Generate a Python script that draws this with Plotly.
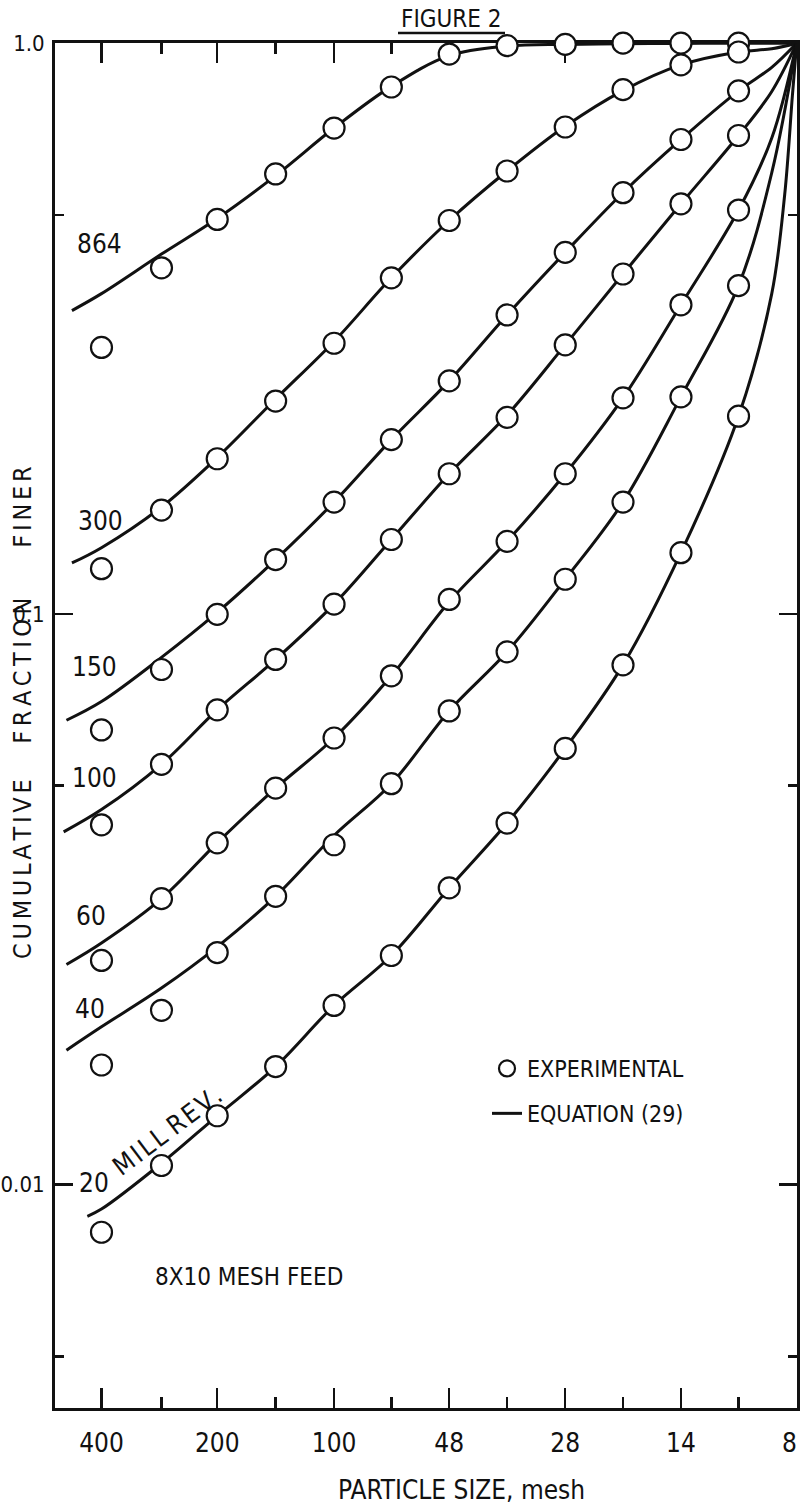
import math
import plotly.graph_objects as go

# ---------------- data ----------------
mesh_labels = ["400", "270", "200", "150", "100", "65", "48", "35", "28", "20", "14", "10", "8"]
sieve_um = [37, 53, 74, 105, 149, 210, 297, 420, 595, 841, 1190, 1680, 2380]

major_mesh = ["400", "200", "100", "48", "28", "14", "8"]
minor_mesh = ["270", "150", "65", "35", "20", "10"]

rev_labels = ["864", "300", "150", "100", "60", "40", "20"]

# experimental cumulative fraction finer at 400 ... 10 mesh
exp_864 = [0.293, 0.404, 0.491, 0.590, 0.710, 0.838, 0.957, 0.990, 0.995, 1.0, 1.0, 1.0]
exp_300 = [0.120, 0.152, 0.187, 0.236, 0.298, 0.388, 0.489, 0.597, 0.713, 0.829, 0.916, 0.965]
exp_150 = [0.0626, 0.0799, 0.0998, 0.1245, 0.157, 0.202, 0.256, 0.334, 0.430, 0.547, 0.678, 0.825]
exp_100 = [0.0427, 0.0545, 0.0679, 0.0832, 0.104, 0.135, 0.176, 0.221, 0.296, 0.394, 0.523, 0.689]
exp_60 = [0.0247, 0.0317, 0.0397, 0.0495, 0.0606, 0.0779, 0.106, 0.134, 0.176, 0.239, 0.348, 0.510]
exp_40 = [0.0162, 0.0202, 0.0255, 0.0320, 0.0394, 0.0504, 0.0676, 0.0858, 0.115, 0.157, 0.240, 0.376]
exp_20 = [0.00825, 0.0108, 0.0132, 0.0161, 0.0206, 0.0252, 0.0331, 0.0430, 0.0581, 0.0814, 0.128, 0.222]

# equation (29) curves: sizes (um) and values
eq_tail_um = [2050, 2380]
eq_start_um = [31, 31, 30, 29.5, 30, 30, 34]
eq_864 = [0.340, 0.364, 0.427, 0.493, 0.586, 0.710, 0.840, 0.951, 0.988, 0.995, 0.998, 0.999, 1.0, 1.0, 1.0]
eq_300 = [0.1228, 0.1306, 0.1539, 0.1879, 0.2380, 0.3002, 0.388, 0.489, 0.597, 0.715, 0.826, 0.916, 0.965, 0.978, 1.0]
eq_150 = [0.0651, 0.0702, 0.0839, 0.1006, 0.1245, 0.157, 0.202, 0.256, 0.334, 0.430, 0.547, 0.678, 0.825, 0.907, 1.0]
eq_100 = [0.0415, 0.0454, 0.0545, 0.0679, 0.0832, 0.104, 0.135, 0.176, 0.223, 0.296, 0.394, 0.523, 0.689, 0.823, 1.0]
eq_60 = [0.0243, 0.0265, 0.0317, 0.0397, 0.0495, 0.0606, 0.0779, 0.105, 0.134, 0.176, 0.239, 0.348, 0.510, 0.682, 1.0]
eq_40 = [0.0172, 0.0189, 0.0221, 0.0261, 0.0320, 0.0409, 0.0504, 0.0676, 0.0858, 0.115, 0.157, 0.240, 0.376, 0.593, 1.0]
eq_tail_20_um = [2050, 2215, 2320, 2380]
eq_20 = [0.0088, 0.00906, 0.0109, 0.0132, 0.0161, 0.0206, 0.0252, 0.0331, 0.0430, 0.0581, 0.0814, 0.128, 0.222, 0.364, 0.543, 0.811, 1.0]

exp_all = [exp_864, exp_300, exp_150, exp_100, exp_60, exp_40, exp_20]
eq_all = [eq_864, eq_300, eq_150, eq_100, eq_60, eq_40, eq_20]

# ---------------- figure ----------------
FONT = "Liberation Sans Narrow, DejaVu Sans Condensed, Roboto Condensed, Arial Narrow, Roboto, sans-serif"
BLACK = "#111111"

fig = go.Figure()

for i, lab in enumerate(rev_labels):
    tail = eq_tail_20_um if lab == "20" else eq_tail_um
    xs = [eq_start_um[i]] + sieve_um[:12] + tail
    fig.add_trace(go.Scatter(
        x=xs, y=eq_all[i], mode="lines",
        line=dict(color=BLACK, width=3, shape="spline", smoothing=1.0),
        name="EQUATION (29)", legendgroup="eq", showlegend=(i == 0), legendrank=2,
        hoverinfo="skip",
    ))

for i, lab in enumerate(rev_labels):
    fig.add_trace(go.Scatter(
        x=sieve_um[:12], y=exp_all[i], mode="markers",
        marker=dict(symbol="circle", size=21, color="white", line=dict(color=BLACK, width=2.2)),
        name="EXPERIMENTAL", legendgroup="exp", showlegend=(i == 0), legendrank=1,
        cliponaxis=False,
    ))

major_vals = [sieve_um[mesh_labels.index(m)] for m in major_mesh]
minor_vals = [sieve_um[mesh_labels.index(m)] for m in minor_mesh]
# the last label ("8") sits on the frame edge; it is written as a separate note below
major_text = [m if m != "8" else "" for m in major_mesh]

x_lo = math.log10(sieve_um[0]) - 0.1209
x_hi = math.log10(sieve_um[-1]) + 0.0008

fig.update_xaxes(
    type="log", range=[x_lo, x_hi], automargin=False,
    tickmode="array", tickvals=major_vals, ticktext=major_text,
    ticks="inside", ticklen=20, tickwidth=2.5, tickcolor=BLACK,
    showline=True, linewidth=3, linecolor=BLACK, mirror="ticks",
    showgrid=False, zeroline=False,
    tickfont=dict(family=FONT, size=26, color=BLACK),
    ticklabelstandoff=10,
    minor=dict(tickmode="array", tickvals=minor_vals, ticks="inside", ticklen=11,
               tickwidth=2.5, tickcolor=BLACK, showgrid=False),
    layer="below traces",
)
fig.update_yaxes(
    type="log", range=[math.log10(0.00406), 0.0003], automargin=False,
    tickmode="array", tickvals=[1.0, 0.1, 0.01], ticktext=["1.0", "0.1", "0.01"],
    ticks="inside", ticklen=18, tickwidth=2.5, tickcolor=BLACK,
    showline=True, linewidth=3, linecolor=BLACK, mirror="ticks",
    showgrid=False, zeroline=False,
    tickfont=dict(family=FONT, size=22, color=BLACK),
    ticklabelstandoff=3,
    minor=dict(tickmode="array", tickvals=[0.5, 0.05, 0.005], ticks="inside", ticklen=9,
               tickwidth=2.5, tickcolor=BLACK, showgrid=False),
    layer="below traces",
)

# page geometry (page body margin removed in post_script)
W, H = 800, 1509
PLOT_L, PLOT_R, PLOT_T, PLOT_B = 55, 797, 43, 1408
PW, PH = PLOT_R - PLOT_L, PLOT_B - PLOT_T


def px(xp):
    return (xp - PLOT_L) / PW


def py(yp):
    return (PLOT_B - yp) / PH


def note(text, xp, yp, size, angle=0):
    return dict(text=text, x=px(xp), y=py(yp), xref="paper", yref="paper",
                xanchor="center", yanchor="middle", showarrow=False, textangle=angle,
                font=dict(family=FONT, size=size, color=BLACK))


annos = []
curve_label_pos = [(99, 244), (100, 521), (94, 667), (94, 778), (91, 916), (90, 1009), (94, 1183)]
for lab, (xp, yp) in zip(rev_labels, curve_label_pos):
    annos.append(note(lab, xp, yp, 26))

annos.append(note("8", 789, 1443, 26))
annos.append(note("\u200a".join("MILL") + "\u00a0" + "\u200a".join("REV."), 167, 1131, 26, -37))
annos.append(note("8X10 MESH FEED", 249, 1277, 24))
annos.append(note("PARTICLE SIZE, mesh", 462, 1490, 26))
annos.append(note("FIGURE 2", 452, 19, 24))

ytitle = ("\u2006".join("CUMULATIVE") + "\u00a0" * 5 + "\u2009".join("FRACTION")
          + "\u00a0" * 7 + "\u2006".join("FINER"))
annos.append(note(ytitle, 22, 713, 25, -90))

fig.update_layout(
    width=W, height=H, autosize=False,
    margin=dict(l=PLOT_L, r=W - PLOT_R, t=PLOT_T, b=H - PLOT_B, pad=0),
    paper_bgcolor="white", plot_bgcolor="white",
    showlegend=True,
    legend=dict(x=px(487), y=py(1047), xanchor="left", yanchor="top",
                font=dict(family=FONT, size=23, color=BLACK),
                bgcolor="rgba(0,0,0,0)", tracegroupgap=12, itemwidth=30),
    annotations=annos,
    shapes=[dict(type="line", xref="paper", yref="paper",
                 x0=px(398), x1=px(505), y0=py(33), y1=py(33),
                 line=dict(color=BLACK, width=2.5))],
    font=dict(family=FONT, color=BLACK),
)

fig.write_html("out.html",
               config={"staticPlot": True, "displayModeBar": False},
               post_script="document.body.style.margin='0px';document.body.style.padding='0px';"
                           "document.documentElement.style.overflow='hidden';")
